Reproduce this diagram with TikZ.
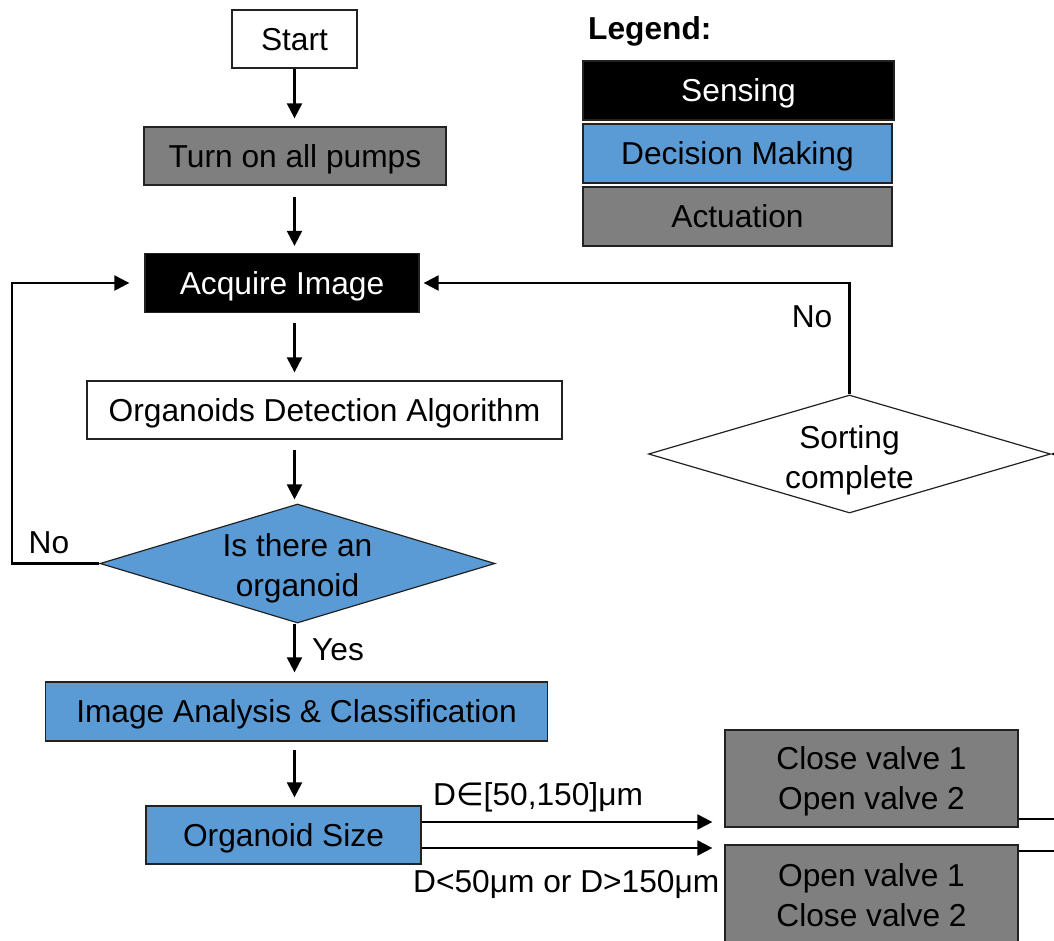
\documentclass[tikz,border=0pt]{standalone}
\usepackage{fontspec}
\setmainfont{Liberation Sans}
\newfontfamily\symfont{DejaVu Sans}
\usetikzlibrary{shapes.geometric,arrows.meta,calc}
\definecolor{decblue}{HTML}{5B9BD5}
\definecolor{actgray}{HTML}{7F7F7F}
\definecolor{edgedark}{HTML}{222222}
\begin{document}
\begin{tikzpicture}[x=1pt,y=-1pt,
  every node/.style={font=\fontsize{31.7}{40}\selectfont},
  box/.style={draw=edgedark, line width=1.3pt, inner sep=0pt, align=center, text depth=0pt},
  sensebox/.style={box, fill=black, text=white},
  decidebox/.style={box, fill=decblue},
  actbox/.style={box, fill=actgray},
  plainbox/.style={box, fill=white},
  decision/.style={diamond, draw=edgedark, line width=1.2pt, inner sep=0pt},
  flow/.style={line width=2.2pt, -{Triangle[length=15pt,width=15pt]}},
  wire/.style={line width=2.2pt},
  tag/.style={inner sep=0pt}
]
\clip (0,0) rectangle (1054,940);
\fill[white] (0,0) rectangle (1054,940);

% main column
\node[plainbox, minimum width=125pt, minimum height=58pt] (start) at (294.5,39) {Start};
\node[actbox, minimum width=302pt, minimum height=58pt] (pumps) at (295,156) {Turn on all pumps};
\node[sensebox, minimum width=274pt, minimum height=59pt] (acquire) at (282,283) {Acquire Image};
\node[plainbox, minimum width=475pt, minimum height=58pt] (detect) at (324.5,410) {Organoids Detection Algorithm};
\node[decision, fill=decblue, minimum width=395pt, minimum height=119pt,
      label={[tag, align=center, yshift=-4.5pt]center:Is there an\\organoid}] (isorg) at (297.5,563.5) {};
\node[decidebox, minimum width=502pt, minimum height=59pt] (analysis) at (296.5,711.5) {Image Analysis \& Classification};
\node[decidebox, minimum width=275pt, minimum height=58pt] (size) at (283.5,835) {Organoid Size};

% valve actions
\node[actbox, minimum width=293pt, minimum height=97pt] (close) at (871.5,778.5) {Close valve 1\\Open valve 2};
\node[actbox, minimum width=293pt, minimum height=100pt] (open) at (871.5,895) {Open valve 1\\Close valve 2};

% completion check
\node[decision, fill=white, minimum width=402pt, minimum height=118pt,
      label={[tag, align=center, yshift=-6.5pt]center:Sorting\\complete}] (sort) at (849.5,454) {};

% legend
\node[tag, anchor=west, font=\fontsize{31.7}{40}\selectfont\bfseries] (legtitle) at (588,31) {Legend:};
\node[sensebox, minimum width=311pt, minimum height=59pt] (legsense) at (738.5,90.5) {Sensing};
\node[decidebox, minimum width=309pt, minimum height=59pt] (legdecide) at (737.5,153.5) {Decision Making};
\node[actbox, minimum width=309pt, minimum height=59pt] (legact) at (737.5,216.5) {Actuation};

% vertical flow
\draw[flow, shorten >=8pt] (start.south) -- (start.south |- pumps.north);
\draw[flow, shorten <=11pt, shorten >=7pt] (start.south |- pumps.south) -- (start.south |- acquire.north);
\draw[flow, shorten <=10pt, shorten >=8pt] (start.south |- acquire.south) -- (start.south |- detect.north);
\draw[flow, shorten <=10pt, shorten >=4pt] (start.south |- detect.south) -- (start.south |- isorg.north);
\draw[flow, shorten >=9pt] (start.south |- isorg.south) -- (start.south |- analysis.north);
\draw[flow, shorten <=8pt, shorten >=8pt] (start.south |- analysis.south) -- (start.south |- size.north);
\node[tag, anchor=west] (yes) at (312,650) {Yes};

% no organoid: back to image acquisition
\coordinate (leftrail) at (12,563.5);
\draw[flow, shorten >=15pt] (isorg.west) -- (leftrail) |- (acquire.west);
\node[tag] (noleft) at (49,543) {No};

% sorting not complete: back to image acquisition
\draw[flow, shorten >=4pt] (sort.north) |- (acquire.east);
\node[tag] (noright) at (812,317) {No};

% size decision branches
\draw[flow, shorten >=12pt] ([yshift=13pt]size.east) -- ([yshift=13pt]size.east -| close.west);
\draw[flow, shorten >=12pt] ([yshift=-13pt]size.east) -- ([yshift=-13pt]size.east -| open.west);
\node[tag, anchor=base west] (inrange) at (433,805) {D{\symfont ∈}[50,150]μm};
\node[tag, anchor=base west] (outrange) at (413,892) {D<50μm or D>150μm};

% valve outputs return to the completion check
\coordinate (ret) at (1100,454);
\draw[wire] ([yshift=-40.5pt]close.east) -| (ret);
\draw[wire] ([yshift=44pt]open.east) -| (ret);
\draw[flow] (ret) -- (sort.east);
\end{tikzpicture}
\end{document}
